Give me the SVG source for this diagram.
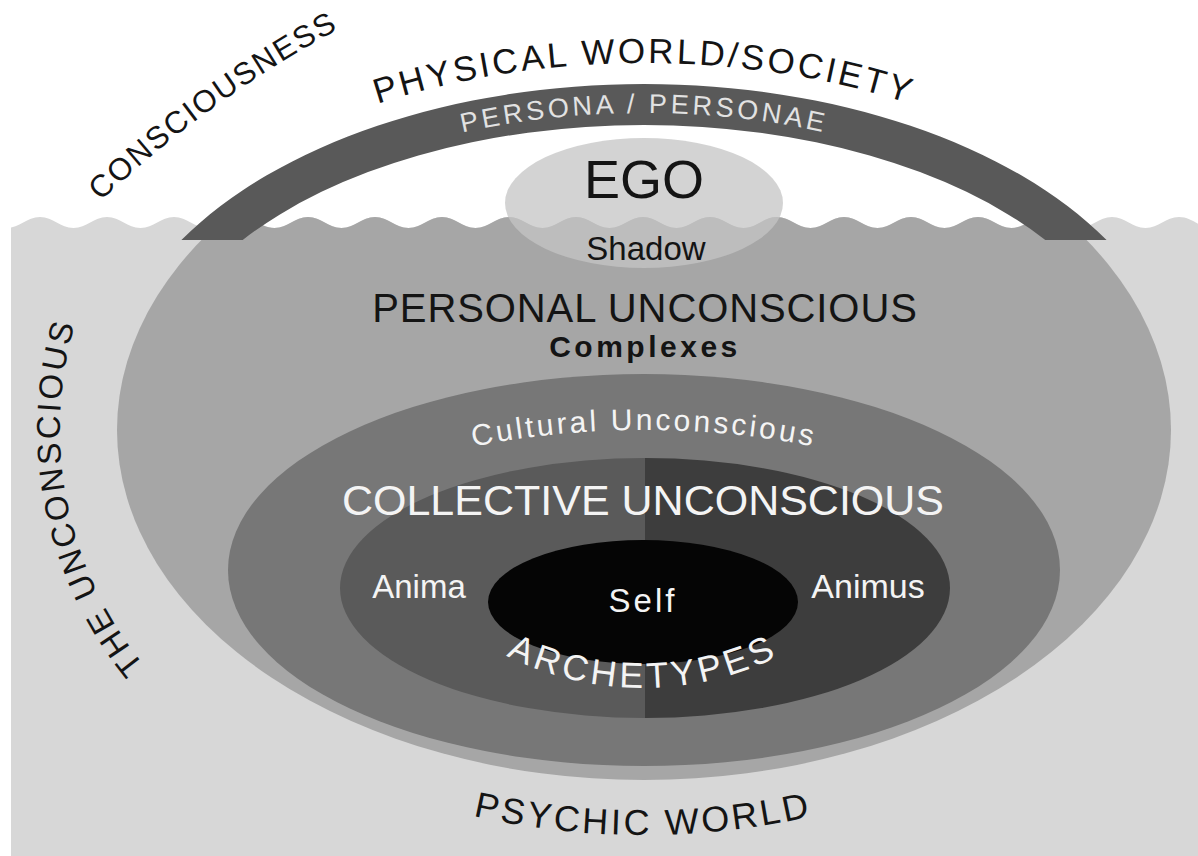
<svg xmlns="http://www.w3.org/2000/svg" width="1198" height="856" viewBox="0 0 1198 856">
  <style>
    text { font-family: "Liberation Sans", Arial, sans-serif; }
    .dark { fill: #141414; }
    .light { fill: #f4f4f4; }
    .mid { text-anchor: middle; }
  </style>
  <defs>
    <!-- water line: everything below it belongs to the unconscious -->
    <clipPath id="sea">
      <path d="M6.5 228c13.4 0 20.1 -11 33.5 -11s20.1 11 33.5 11s20.1 -11 33.5 -11s20.1 11 33.5 11s20.1 -11 33.5 -11s20.1 11 33.5 11s20.1 -11 33.5 -11s20.1 11 33.5 11s20.1 -11 33.5 -11s20.1 11 33.5 11s20.1 -11 33.5 -11s20.1 11 33.5 11s20.1 -11 33.5 -11s20.1 11 33.5 11s20.1 -11 33.5 -11s20.1 11 33.5 11s20.1 -11 33.5 -11s20.1 11 33.5 11s20.1 -11 33.5 -11s20.1 11 33.5 11s20.1 -11 33.5 -11s20.1 11 33.5 11s20.1 -11 33.5 -11s20.1 11 33.5 11s20.1 -11 33.5 -11s20.1 11 33.5 11s20.1 -11 33.5 -11s20.1 11 33.5 11s20.1 -11 33.5 -11s20.1 11 33.5 11s20.1 -11 33.5 -11s20.1 11 33.5 11s20.1 -11 33.5 -11s20.1 11 33.5 11s20.1 -11 33.5 -11s20.1 11 33.5 11s20.1 -11 33.5 -11L1246 856L6.5 856Z"/>
    </clipPath>
    <!-- baselines for the curved labels -->
    <path id="arc-consciousness" d="M101 201A1100 1100 0 0 1 339 29"/>
    <path id="arc-physical" d="M86 400A558 337 0 0 1 1202 400"/>
    <path id="arc-persona" d="M144 400A500 287 0 0 1 1144 400"/>
    <path id="arc-cultural" d="M284 570A360 140 0 0 1 1004 570"/>
    <path id="arc-archetypes" d="M339 384A304 304 0 0 0 947 384"/>
    <path id="arc-psychic" d="M-122 70A765 765 0 0 0 1408 70"/>
    <path id="arc-unconscious" d="M254.4 756.5A373 373 0 0 1 141.5 196.2"/>
  </defs>

  <rect width="1198" height="856" fill="#ffffff"/>

  <!-- layers below the water line -->
  <g id="unconscious" clip-path="url(#sea)">
    <rect x="11" y="200" width="1187" height="656" fill="#d7d7d7"/>
    <g id="personal-unconscious">
      <ellipse cx="644" cy="430" rx="527" ry="350" fill="#a6a6a6"/>
    </g>
    <g id="cultural-unconscious">
      <ellipse cx="644" cy="570" rx="416" ry="196" fill="#777777"/>
    </g>
    <g id="collective-unconscious">
      <path d="M645 458A305 130 0 0 0 645 718Z" fill="#5a5a5a"/>
      <path d="M645 458A305 130 0 0 1 645 718Z" fill="#3d3d3d"/>
    </g>
    <g id="self">
      <ellipse cx="643" cy="602" rx="155" ry="62" fill="#050505"/>
    </g>
  </g>

  <g id="ego">
    <ellipse cx="644" cy="203" rx="139" ry="65" fill="#c4c4c4" fill-opacity="0.75"/>
    <text class="dark mid" x="644" y="198" font-size="54">EGO</text>
    <text class="dark mid" x="646" y="260" font-size="33">Shadow</text>
  </g>

  <g id="persona">
    <path d="M181.4 240A536.5 316 0 0 1 1106.6 240L1045.3 240A493.4 275 0 0 0 242.7 240Z" fill="#595959"/>
    <text fill="#e2e2e2" font-size="27" letter-spacing="3.5" text-anchor="middle"><textPath href="#arc-persona" startOffset="50%">PERSONA / PERSONAE</textPath></text>
  </g>

  <g id="labels-outer">
    <text class="dark" font-size="31" letter-spacing="1.8" text-anchor="middle"><textPath href="#arc-consciousness" startOffset="50%">CONSCIOUSNESS</textPath></text>
    <text class="dark" font-size="35" letter-spacing="3" text-anchor="middle"><textPath href="#arc-physical" startOffset="50%">PHYSICAL WORLD/SOCIETY</textPath></text>
    <text class="dark" font-size="33" letter-spacing="2.8" text-anchor="middle"><textPath href="#arc-unconscious" startOffset="50%">THE UNCONSCIOUS</textPath></text>
    <text class="dark" font-size="36" letter-spacing="3" text-anchor="middle"><textPath href="#arc-psychic" startOffset="50%">PSYCHIC WORLD</textPath></text>
  </g>

  <g id="labels-inner">
    <text class="dark mid" x="645" y="322" font-size="40" letter-spacing="0.9">PERSONAL UNCONSCIOUS</text>
    <text class="dark mid" x="645" y="357" font-size="30" font-weight="bold" letter-spacing="3.5">Complexes</text>
    <text class="light" font-size="30" letter-spacing="3" text-anchor="middle"><textPath href="#arc-cultural" startOffset="50%">Cultural Unconscious</textPath></text>
    <text class="light mid" x="643" y="515" font-size="43">COLLECTIVE UNCONSCIOUS</text>
    <text class="light mid" x="419" y="598" font-size="33">Anima</text>
    <text class="light mid" x="868" y="598" font-size="34">Animus</text>
    <text class="light mid" x="643" y="612" font-size="33" letter-spacing="3">Self</text>
    <text class="light" font-size="36" letter-spacing="4" text-anchor="middle"><textPath href="#arc-archetypes" startOffset="50%">ARCHETYPES</textPath></text>
  </g>
</svg>
